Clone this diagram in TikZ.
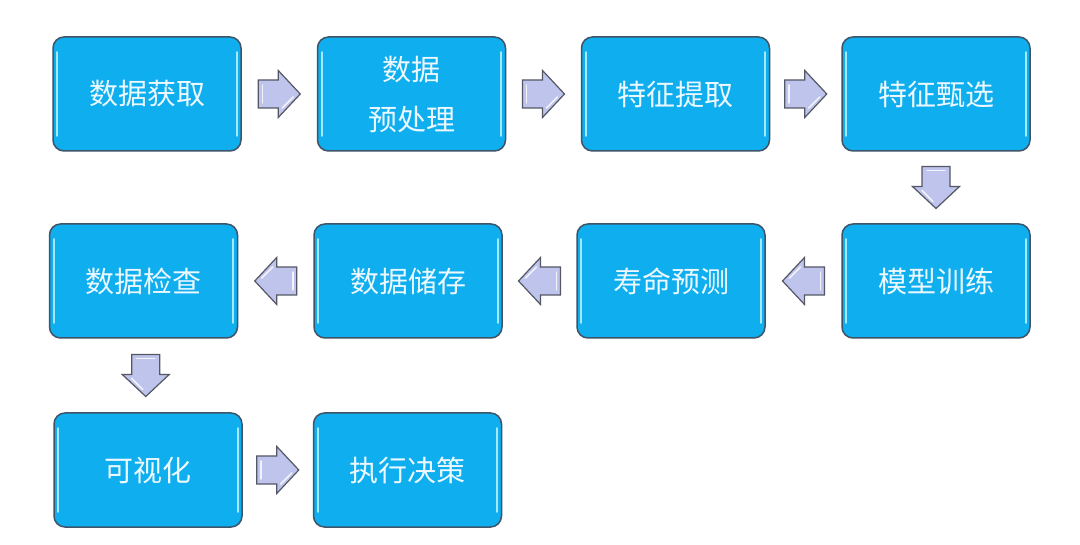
\documentclass[tikz,border=0pt]{standalone}
\usepackage{fontspec}
\newfontfamily\cjk{Noto Sans CJK SC}
\usetikzlibrary{calc}
\definecolor{boxfill}{RGB}{14,174,239}
\definecolor{boxline}{RGB}{62,84,104}
\definecolor{boxtext}{RGB}{236,248,255}
\definecolor{hilite}{RGB}{165,232,255}
\definecolor{arrfill}{RGB}{190,196,236}
\definecolor{arrline}{RGB}{85,88,100}
\tikzset{
  box/.style={draw=boxline, line width=1.5pt, fill=boxfill, rounded corners=11pt,
    minimum width=188pt, minimum height=114pt, inner sep=0pt, align=center,
    text=boxtext, font=\cjk\fontsize{29}{50}\selectfont},
  hl/.style={draw=hilite, line width=2.2pt, line cap=round},
  blockarrow/.style={fill=arrfill, draw=arrline, line width=1.2pt, line join=miter},
  arrhl/.style={draw=white, line width=1.5pt, line cap=round, opacity=0.8}
}
\newcommand{\barrow}[2]{%
  \begin{scope}[shift={#1}, rotate=#2]
    \draw[blockarrow] (-21,-14) -- (-1,-14) -- (-1,-23.5) -- (21,0) -- (-1,23.5) -- (-1,14) -- (-21,14) -- cycle;
    \draw[arrhl] (-17,-9) -- (-17,9);
    \draw[arrhl] (3,14) -- (14,3);
  \end{scope}}
\newcommand{\boxhl}[1]{%
  \draw[hl] ([xshift=5pt,yshift=-16pt]#1.north west) -- ([xshift=5pt,yshift=16pt]#1.south west);
  \draw[hl] ([xshift=-5pt,yshift=-16pt]#1.north east) -- ([xshift=-5pt,yshift=16pt]#1.south east);}
\begin{document}
\begin{tikzpicture}[x=1pt,y=-1pt]
\fill[white] (0,0) rectangle (1080,545);
\useasboundingbox (0,0) rectangle (1080,545);
% row 1
\node[box] (b1) at (147,94) {数据获取};
\node[box] (b2) at (411.5,94) {数据\\预处理};
\node[box] (b3) at (675.5,94) {特征提取};
\node[box] (b4) at (936,94) {特征甄选};
% row 2
\node[box] (c4) at (936,281) {模型训练};
\node[box] (c3) at (671,281) {寿命预测};
\node[box] (c2) at (408,281) {数据储存};
\node[box] (c1) at (143.5,281) {数据检查};
% row 3
\node[box] (d1) at (148,470) {可视化};
\node[box] (d2) at (407.5,470) {执行决策};
\foreach \n in {b1,b2,b3,b4,c1,c2,c3,c4,d1,d2}{\boxhl{\n}}
% arrows
\barrow{($(b1.east)!0.5!(b2.west)$)}{0}
\barrow{($(b2.east)!0.5!(b3.west)$)}{0}
\barrow{($(b3.east)!0.5!(b4.west)$)}{0}
\barrow{($(b4.south)!0.5!(c4.north)$)}{-90}
\barrow{($(c4.west)!0.5!(c3.east)$)}{180}
\barrow{($(c3.west)!0.5!(c2.east)$)}{180}
\barrow{($(c2.west)!0.5!(c1.east)$)}{180}
\barrow{($(c1.south)!0.5!(d1.north)$)}{-90}
\barrow{($(d1.east)!0.5!(d2.west)$)}{0}
\end{tikzpicture}
\end{document}
